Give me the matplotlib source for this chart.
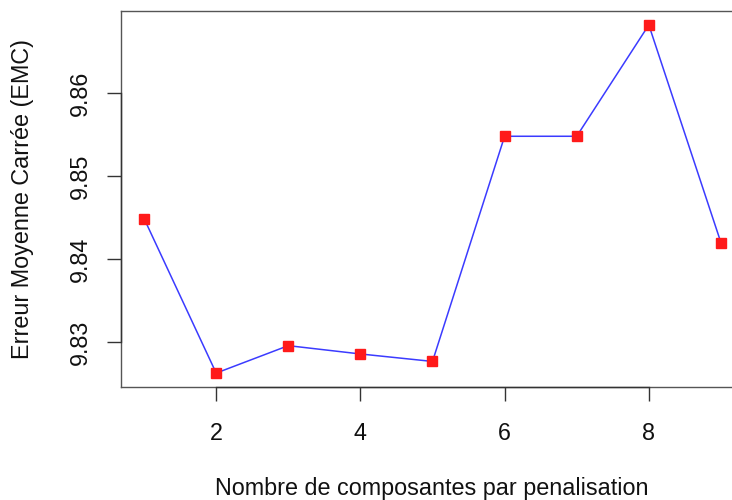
import matplotlib
matplotlib.use("Agg")
import matplotlib.pyplot as plt
from matplotlib.lines import Line2D

plt.rcParams['font.family'] = ['Liberation Sans', 'DejaVu Sans']

n_comp = [1, 2, 3, 4, 5, 6, 7, 8, 9]
emc = [9.8449, 9.8263, 9.8296, 9.8286, 9.8277, 9.8548, 9.8548, 9.8682, 9.8420]
x_ticks = [2, 4, 6, 8]
y_ticks = [9.83, 9.84, 9.85, 9.86]
y_ticklabels = ["9.83", "9.84", "9.85", "9.86"]

W, H = 732, 500
fig = plt.figure(figsize=(W / 100, H / 100), dpi=100)
left, right, bottom, top = 121, 744, 387, 11
ax = fig.add_axes([left / W, (H - bottom) / H, (right - left) / W, (bottom - top) / H])

ax.plot(n_comp, emc, color='#3b3bff', lw=1.1, zorder=2)
ax.plot(n_comp, emc, ls='none', marker='s', ms=7.5, color='#ff1a1a', mec='#ff1a1a', zorder=3)

xr = max(n_comp) - min(n_comp)
ax.set_xlim(min(n_comp) - 0.04 * xr, max(n_comp) + 0.04 * xr)
yr = max(emc) - min(emc)
ax.set_ylim(min(emc) - 0.04 * yr, max(emc) + 0.04 * yr)

for s in ax.spines.values():
    s.set_color('#555555')
    s.set_linewidth(1.0)

ax.set_xticks(x_ticks)
ax.set_yticks(y_ticks)
ax.set_yticklabels(y_ticklabels, rotation=90, va='center')
ax.tick_params(axis='both', length=10, width=1.0, color='#333333', labelsize=16.8, labelcolor='#111111')
ax.tick_params(axis='x', pad=15)
ax.tick_params(axis='y', pad=11)

# axis lines spanning first to last tick (R style)
ax.add_line(Line2D([x_ticks[0], x_ticks[-1]], [0, 0], transform=ax.get_xaxis_transform(),
                   color='#333333', lw=1.0, clip_on=False, zorder=4))
ax.add_line(Line2D([0, 0], [y_ticks[0], y_ticks[-1]], transform=ax.get_yaxis_transform(),
                   color='#333333', lw=1.0, clip_on=False, zorder=4))

fig.text(432 / W, 1 - 488 / H, "Nombre de composantes par penalisation", ha='center', va='center',
         fontsize=16.8, color='#111111')
fig.text(23 / W, 1 - 199 / H, "Erreur Moyenne Carrée (EMC)", ha='center', va='center',
         rotation=90, fontsize=16.8, color='#111111')

fig.savefig("out.png", dpi=100)
